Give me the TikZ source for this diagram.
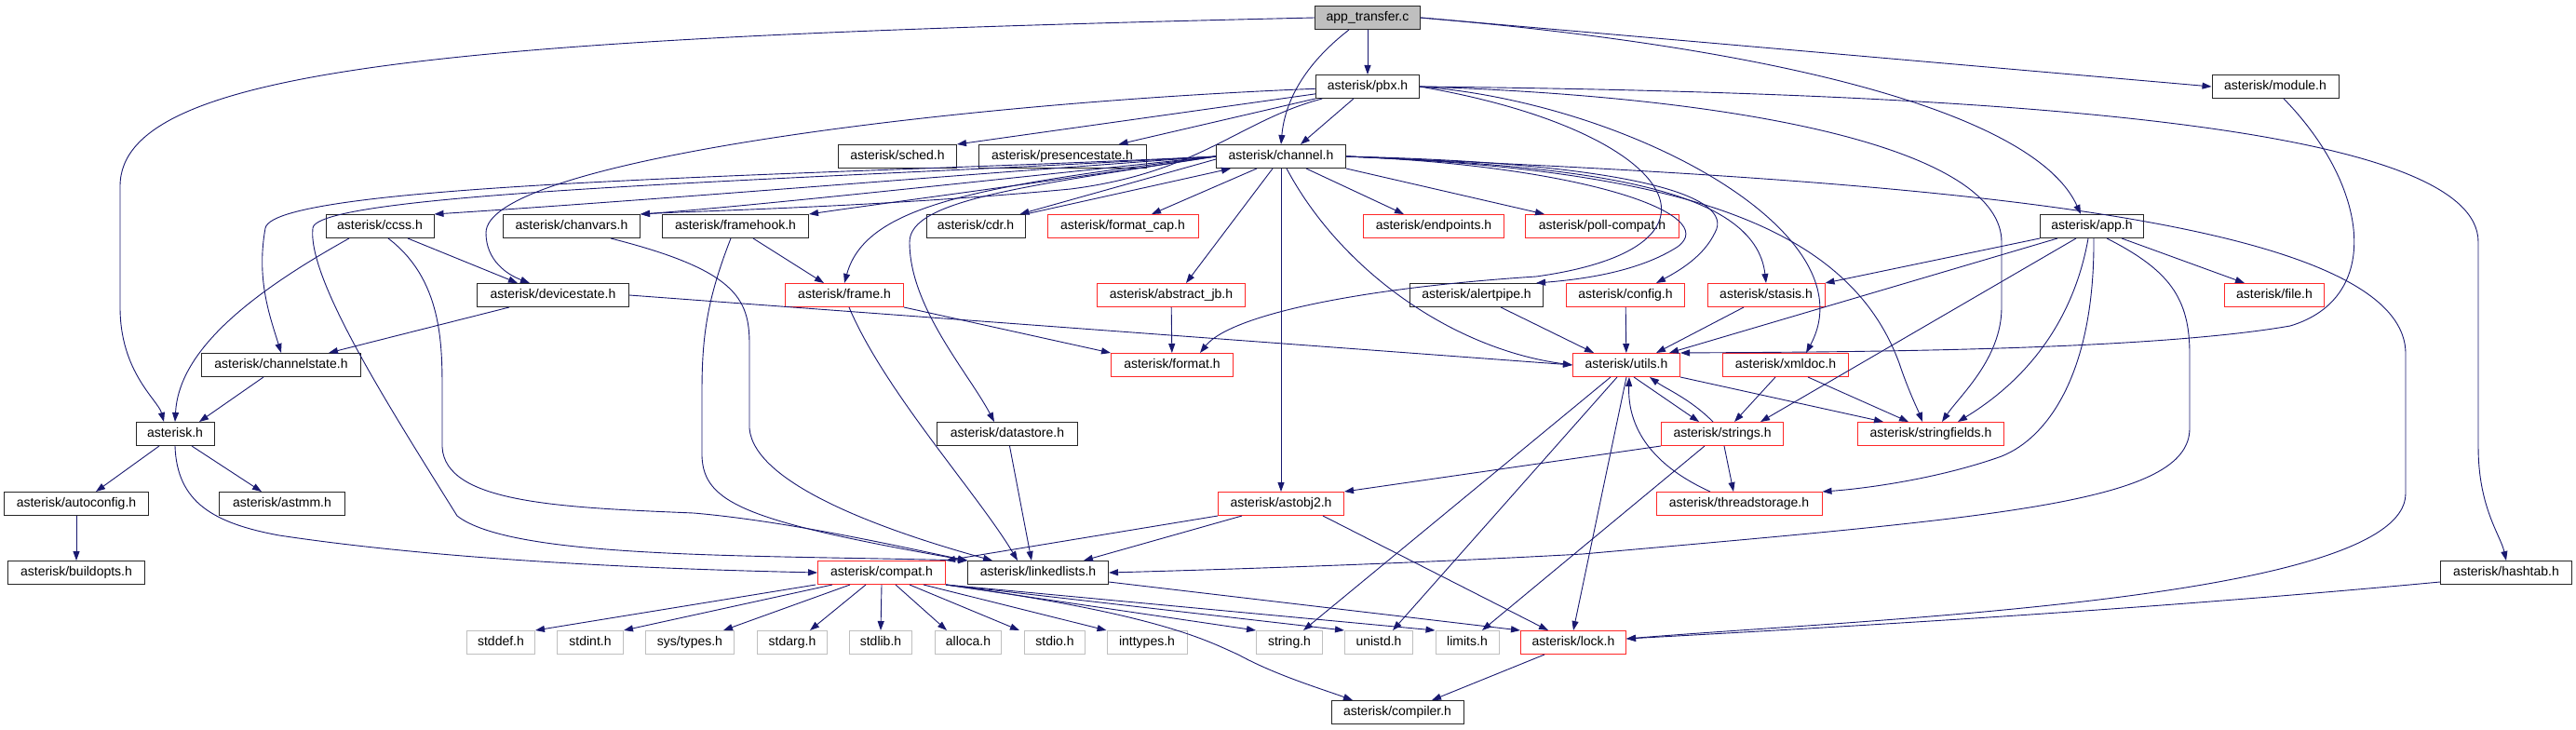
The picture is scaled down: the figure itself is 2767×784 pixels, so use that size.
\documentclass[tikz,border=0pt]{standalone}
\usepackage{fontspec}
\setmainfont{Liberation Sans}
\usetikzlibrary{arrows.meta}
\definecolor{edgeblue}{RGB}{25,25,112}
\definecolor{nodered}{RGB}{255,40,40}
\definecolor{sysgray}{RGB}{191,191,191}
\tikzstyle{header} = [rectangle, draw=black!85, fill=white, line width=1pt, minimum height=25pt, inner sep=0pt, text height=10pt, text depth=3pt, font=\fontsize{14}{16}\selectfont]
\tikzstyle{redheader} = [header, draw=nodered]
\tikzstyle{sysheader} = [header, draw=sysgray]
\tikzstyle{arrow} = [draw=edgeblue, line width=0.9pt, -{Triangle[length=10pt,width=7pt]}]

\begin{document}
\begin{tikzpicture}[x=1pt, y=-1pt]
    \fill [white] (0,0) rectangle (2767,784);
    \useasboundingbox (0,0) rectangle (2767,784);

    \node (transfer) [header, fill=sysgray, minimum width=113pt] at (1469,19) {app\_transfer.c};

    \node (pbx) [header, minimum width=111pt] at (1469,93) {asterisk/pbx.h};
    \node (module) [header, minimum width=136pt] at (2444,93) {asterisk/module.h};

    \node (sched) [header, minimum width=127pt] at (964,168) {asterisk/sched.h};
    \node (presence) [header, minimum width=180pt] at (1141,168) {asterisk/presencestate.h};
    \node (channel) [header, minimum width=139pt] at (1376,168) {asterisk/channel.h};

    \node (ccss) [header, minimum width=116pt] at (408,243) {asterisk/ccss.h};
    \node (chanvars) [header, minimum width=147pt] at (614,243) {asterisk/chanvars.h};
    \node (framehook) [header, minimum width=157pt] at (790,243) {asterisk/framehook.h};
    \node (cdr) [header, minimum width=106pt] at (1048,243) {asterisk/cdr.h};
    \node (formatcap) [redheader, minimum width=162pt] at (1206,243) {asterisk/format\_cap.h};
    \node (endpoints) [redheader, minimum width=151pt] at (1540,243) {asterisk/endpoints.h};
    \node (pollcompat) [redheader, minimum width=165pt] at (1721,243) {asterisk/poll-compat.h};
    \node (apph) [header, minimum width=111pt] at (2247,243) {asterisk/app.h};

    \node (devstate) [header, minimum width=163pt] at (594,317) {asterisk/devicestate.h};
    \node (frame) [redheader, minimum width=127pt] at (907,317) {asterisk/frame.h};
    \node (abstractjb) [redheader, minimum width=159pt] at (1258,317) {asterisk/abstract\_jb.h};
    \node (alertpipe) [header, minimum width=143pt] at (1586,317) {asterisk/alertpipe.h};
    \node (config) [redheader, minimum width=127pt] at (1746,317) {asterisk/config.h};
    \node (stasis) [redheader, minimum width=126pt] at (1897,317) {asterisk/stasis.h};
    \node (file) [redheader, minimum width=107pt] at (2443,317) {asterisk/file.h};

    \node (chanstate) [header, minimum width=171pt] at (302,392) {asterisk/channelstate.h};
    \node (format) [redheader, minimum width=131pt] at (1259,392) {asterisk/format.h};
    \node (utils) [redheader, minimum width=115pt] at (1747,392) {asterisk/utils.h};
    \node (xmldoc) [redheader, minimum width=135pt] at (1918,392) {asterisk/xmldoc.h};

    \node (asterisk) [header, minimum width=84pt] at (188,466) {asterisk.h};
    \node (datastore) [header, minimum width=151pt] at (1082,466) {asterisk/datastore.h};
    \node (strings) [redheader, minimum width=131pt] at (1850,466) {asterisk/strings.h};
    \node (strfields) [redheader, minimum width=157pt] at (2074,466) {asterisk/stringfields.h};

    \node (autoconfig) [header, minimum width=155pt] at (82,541) {asterisk/autoconfig.h};
    \node (astmm) [header, minimum width=135pt] at (303,541) {asterisk/astmm.h};
    \node (astobj) [redheader, minimum width=135pt] at (1376,541) {asterisk/astobj2.h};
    \node (tstorage) [redheader, minimum width=178pt] at (1868,541) {asterisk/threadstorage.h};

    \node (buildopts) [header, minimum width=147pt] at (82,615) {asterisk/buildopts.h};
    \node (compat) [redheader, minimum width=137pt] at (947,615) {asterisk/compat.h};
    \node (llists) [header, minimum width=151pt] at (1115,615) {asterisk/linkedlists.h};
    \node (hashtab) [header, minimum width=141pt] at (2692,615) {asterisk/hashtab.h};

    \node (stddef) [sysheader, minimum width=73pt] at (538,690) {stddef.h};
    \node (stdint) [sysheader, minimum width=71pt] at (634,690) {stdint.h};
    \node (systypes) [sysheader, minimum width=95pt] at (741,690) {sys/types.h};
    \node (stdarg) [sysheader, minimum width=75pt] at (851,690) {stdarg.h};
    \node (stdlib) [sysheader, minimum width=67pt] at (946,690) {stdlib.h};
    \node (alloca) [sysheader, minimum width=71pt] at (1040,690) {alloca.h};
    \node (stdio) [sysheader, minimum width=65pt] at (1133,690) {stdio.h};
    \node (inttypes) [sysheader, minimum width=86pt] at (1232,690) {inttypes.h};
    \node (stringh) [sysheader, minimum width=71pt] at (1385,690) {string.h};
    \node (unistd) [sysheader, minimum width=73pt] at (1481,690) {unistd.h};
    \node (limits) [sysheader, minimum width=68pt] at (1576,690) {limits.h};
    \node (lock) [redheader, minimum width=113pt] at (1690,690) {asterisk/lock.h};

    \node (compiler) [header, minimum width=142pt] at (1501,765) {asterisk/compiler.h};

    % app_transfer.c
    \draw [arrow] (transfer.west) .. controls (500,40) and (129,70) .. (129,200) -- (129,330) .. controls (129,400) and (170,430) .. ([xshift=-12pt]asterisk.north);
    \draw [arrow] (transfer) -- (pbx);
    \draw [arrow] ([xshift=-20pt]transfer.south) .. controls (1400,70) and (1380,110) .. (channel.north);
    \draw [arrow] (transfer.east) -- (module.west);
    \draw [arrow] (transfer.east) .. controls (1950,55) and (2190,130) .. ([xshift=-12pt]apph.north);

    % pbx.h
    \draw [arrow] (pbx) -- (sched.north east);
    \draw [arrow] (pbx) -- ([xshift=-30pt]presence.north east);
    \draw [arrow] (pbx) -- ([xshift=21pt]channel.north);
    \draw [arrow] (pbx) .. controls (1000,112) and (522,175) .. (522,250) .. controls (522,280) and (545,295) .. ([xshift=-25pt]devstate.north);
    \draw [arrow] (pbx) .. controls (1330,130) and (1290,185) .. (1150,203) .. controls (950,222) and (760,226) .. (chanvars.north east);
    \draw [arrow] (pbx.east) .. controls (2200,100) and (2662,140) .. (2662,260) -- (2662,480) .. controls (2662,545) and (2686,575) .. (hashtab.north);
    \draw [arrow] (pbx.east) .. controls (1900,105) and (2150,165) .. (2150,260) -- (2150,330) .. controls (2150,385) and (2105,425) .. ([xshift=12pt]strfields.north);
    \draw [arrow] (pbx.east) .. controls (1750,110) and (2010,250) .. ([xshift=22pt]xmldoc.north);
    \draw [arrow] (pbx.east) .. controls (1800,140) and (1880,265) .. (1650,297) .. controls (1450,310) and (1320,340) .. ([xshift=30pt]format.north);

    % channel.h
    \draw [arrow] (channel.west) .. controls (1000,190) and (700,215) .. (ccss.north east);
    \draw [arrow] (channel.west) .. controls (1050,195) and (800,222) .. (chanvars.north east);
    \draw [arrow] (channel.west) .. controls (1150,192) and (950,218) .. (framehook.north east);
    \draw [arrow] ([yshift=-3pt]channel.west) -- ([xshift=-6pt]cdr.north east);
    \draw [arrow] (cdr.north east) -- ([xshift=16pt]channel.south west);
    \draw [arrow] ([xshift=-26pt]channel.south) -- ([xshift=31pt]formatcap.north);
    \draw [arrow] ([xshift=-9pt]channel.south) -- ([xshift=16pt]abstractjb.north);
    \draw [arrow] (channel) -- (astobj);
    \draw [arrow] (channel.west) .. controls (1100,200) and (977,215) .. (977,260) .. controls (977,330) and (1040,400) .. ([xshift=-14pt]datastore.north);
    \draw [arrow] (channel.west) .. controls (1050,200) and (930,220) .. (frame.north);
    \draw [arrow] (channel.west) .. controls (900,188) and (295,195) .. (285,245) .. controls (275,300) and (290,340) .. (chanstate.north);
    \draw [arrow] (channel.west) .. controls (900,192) and (340,205) .. (336,245) .. controls (330,300) and (420,440) .. (491,554) .. controls (550,600) and (800,596) .. (llists.north west);
    \draw [arrow] ([xshift=6pt]channel.south) .. controls (1440,290) and (1560,375) .. (utils.west);
    \draw [arrow] ([xshift=27pt]channel.south) -- ([xshift=-32pt]endpoints.north);
    \draw [arrow] (channel.south east) -- ([xshift=-62pt]pollcompat.north);
    \draw [arrow] (channel.east) .. controls (1700,178) and (1850,230) .. (1802,265) .. controls (1760,292) and (1700,300) .. ([xshift=-8pt]alertpipe.north east);
    \draw [arrow] (channel.east) .. controls (1750,175) and (1865,210) .. (1842,250) .. controls (1830,275) and (1805,290) .. ([xshift=33pt]config.north);
    \draw [arrow] (channel.east) .. controls (1700,178) and (1885,200) .. (stasis.north);
    \draw [arrow] (channel.east) .. controls (1800,182) and (1985,240) .. (2040,390) .. controls (2050,420) and (2060,440) .. ([xshift=-9pt]strfields.north);
    \draw [arrow] (channel.east) .. controls (2000,192) and (2584,225) .. (2584,380) -- (2584,530) .. controls (2584,645) and (2000,665) .. ([yshift=4pt]lock.east);

    % ccss.h, chanvars.h, framehook.h, frame.h
    \draw [arrow] ([xshift=30pt]ccss.south) -- ([xshift=-38pt]devstate.north);
    \draw [arrow] ([xshift=-33pt]ccss.south) .. controls (260,320) and (192,380) .. (asterisk.north);
    \draw [arrow] ([xshift=9pt]ccss.south) .. controls (475,300) and (475,370) .. (475,420) -- (475,480) .. controls (478,540) and (600,545) .. (745,551) .. controls (850,560) and (980,590) .. (llists.north west);
    \draw [arrow] ([xshift=42pt]chanvars.south) .. controls (790,290) and (805,320) .. (805,370) -- (805,460) .. controls (810,520) and (950,570) .. ([xshift=-49pt]llists.north);
    \draw [arrow] ([xshift=19pt]framehook.south) -- ([xshift=-22pt]frame.north);
    \draw [arrow] ([xshift=-5pt]framehook.south) .. controls (760,320) and (754,360) .. (754,420) -- (754,490) .. controls (756,540) and (800,560) .. (llists.north west);
    \draw [arrow] (frame.south east) -- (format.north west);
    \draw [arrow] ([xshift=5pt]frame.south) .. controls (950,420) and (1050,530) .. ([xshift=-22pt]llists.north);
    \draw [arrow] (abstractjb) -- (format);
    \draw [arrow] (datastore) -- ([xshift=-7pt]llists.north);

    % devicestate.h, channelstate.h, asterisk.h
    \draw [arrow] ([xshift=-47pt]devstate.south) -- ([xshift=51pt]chanstate.north);
    \draw [arrow] (devstate.east) -- (utils.west);
    \draw [arrow] ([xshift=-19pt]chanstate.south) -- ([xshift=26pt]asterisk.north);
    \draw [arrow] ([xshift=-17pt]asterisk.south) -- ([xshift=21pt]autoconfig.north);
    \draw [arrow] ([xshift=18pt]asterisk.south) -- ([xshift=-22pt]astmm.north);
    \draw [arrow] (asterisk.south) .. controls (190,540) and (230,562) .. (300,575) .. controls (500,605) and (750,612) .. (compat.west);
    \draw [arrow] (autoconfig) -- (buildopts);

    % into utils.h
    \draw [arrow] ([xshift=26pt]alertpipe.south) -- ([xshift=-35pt]utils.north);
    \draw [arrow] (config) -- (utils);
    \draw [arrow] ([xshift=-24pt]stasis.south) -- ([xshift=32pt]utils.north);

    % app.h
    \draw [arrow] (apph.south west) -- (stasis.north east);
    \draw [arrow] ([xshift=-37pt]apph.south) -- ([xshift=46pt]utils.north);
    \draw [arrow] ([xshift=-17pt]apph.south) -- ([xshift=41pt]strings.north);
    \draw [arrow] ([xshift=-4pt]apph.south) .. controls (2230,330) and (2190,400) .. ([xshift=29pt]strfields.north);
    \draw [arrow] ([xshift=2pt]apph.south) .. controls (2250,400) and (2200,470) .. (2150,490) .. controls (2080,515) and (2000,525) .. (tstorage.north east);
    \draw [arrow] ([xshift=16pt]apph.south) .. controls (2330,290) and (2352,320) .. (2352,380) -- (2352,460) .. controls (2352,540) and (2150,555) .. (1700,595) .. controls (1500,606) and (1300,612) .. (llists.east);
    \draw [arrow] ([xshift=32pt]apph.south) -- ([xshift=-32pt]file.north);

    % module.h
    \draw [arrow] ([xshift=9pt]module.south) .. controls (2545,200) and (2560,320) .. (2460,350) .. controls (2300,378) and (1950,378) .. (utils.north east);

    % utils.h, strings.h, xmldoc.h
    \draw [arrow] ([xshift=8pt]utils.south) -- ([xshift=-25pt]strings.north);
    \draw [arrow] ([xshift=-10pt]strings.north) .. controls (1815,428) and (1790,418) .. ([xshift=25pt]utils.south);
    \draw [arrow] ([xshift=-31pt]tstorage.north) .. controls (1775,500) and (1748,460) .. ([xshift=3pt]utils.south);
    \draw [arrow] (utils.south east) -- ([xshift=-51pt]strfields.north);
    \draw [arrow] ([xshift=-11pt]xmldoc.south) -- ([xshift=13pt]strings.north);
    \draw [arrow] ([xshift=24pt]xmldoc.south) -- ([xshift=-24pt]strfields.north);
    \draw [arrow] ([xshift=-17pt]utils.south) -- ([xshift=15pt]stringh.north);
    \draw [arrow] ([xshift=-10pt]utils.south) -- ([xshift=15pt]unistd.north);
    \draw [arrow] (utils.south) -- (lock.north);
    \draw [arrow] (strings.south west) -- (astobj.north east);
    \draw [arrow] ([xshift=2pt]strings.south) -- ([xshift=-6pt]tstorage.north);
    \draw [arrow] ([xshift=-19pt]strings.south) -- ([xshift=16pt]limits.north);

    % astobj2.h, linkedlists.h, hashtab.h, lock.h
    \draw [arrow] (astobj.south west) -- (compat.north east);
    \draw [arrow] ([xshift=-42pt]astobj.south) -- ([xshift=49pt]llists.north);
    \draw [arrow] ([xshift=45pt]astobj.south) -- ([xshift=-27pt]lock.north);
    \draw [arrow] ([yshift=-10pt]llists.east) -- (lock.north west);
    \draw [arrow] ([yshift=-10pt]hashtab.west) .. controls (2300,655) and (2000,672) .. ([yshift=4pt]lock.east);
    \draw [arrow] ([xshift=-31pt]lock.south) -- ([xshift=37pt]compiler.north);

    % compat.h
    \draw [arrow] (compat.south east) .. controls (1250,660) and (1300,690) .. (1330,703) .. controls (1370,725) and (1420,740) .. ([xshift=-48pt]compiler.north);
    \draw [arrow] ([xshift=-71pt]compat.south) -- (stddef.north east);
    \draw [arrow] ([xshift=-53pt]compat.south) -- (stdint.north east);
    \draw [arrow] ([xshift=-34pt]compat.south) -- ([xshift=-12pt]systypes.north east);
    \draw [arrow] ([xshift=-17pt]compat.south) -- ([xshift=19pt]stdarg.north);
    \draw [arrow] (compat.south) -- (stdlib.north);
    \draw [arrow] ([xshift=15pt]compat.south) -- ([xshift=-23pt]alloca.north);
    \draw [arrow] ([xshift=30pt]compat.south) -- ([xshift=-38pt]stdio.north);
    \draw [arrow] ([xshift=45pt]compat.south) -- (inttypes.north west);
    \draw [arrow] (compat.south east) -- (stringh.north west);
    \draw [arrow] (compat.south east) -- (unistd.north west);
    \draw [arrow] (compat.south east) -- (limits.north west);
\end{tikzpicture}
\end{document}
